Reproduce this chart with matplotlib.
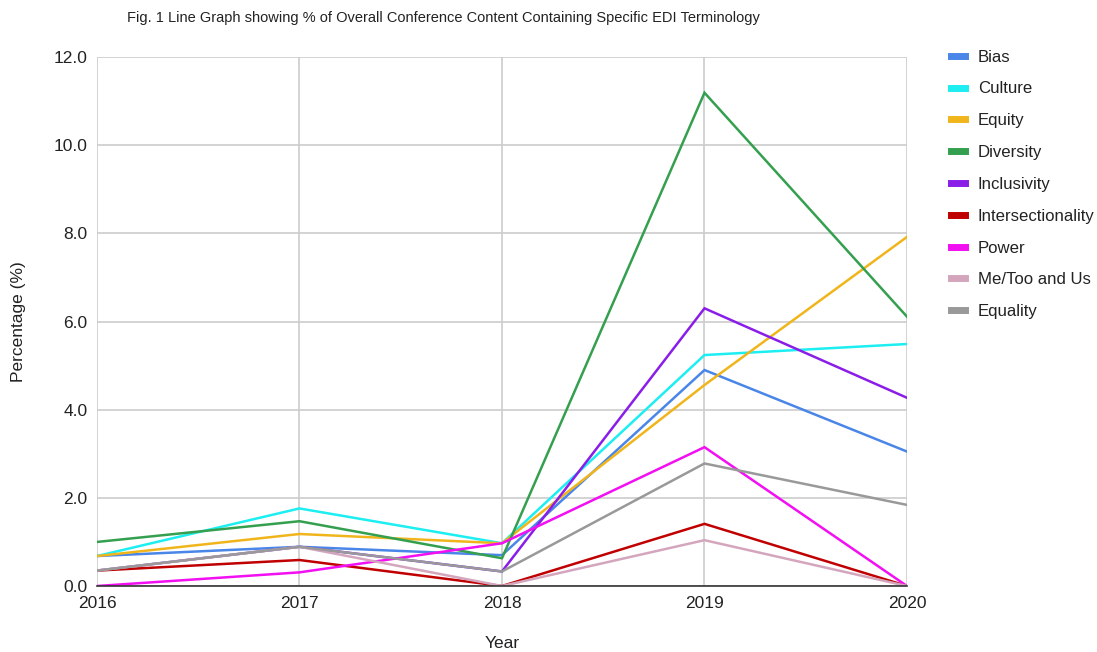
import matplotlib.pyplot as plt
from matplotlib.lines import Line2D

plt.rcParams['font.family'] = ['Liberation Sans', 'DejaVu Sans']

years = [2016, 2017, 2018, 2019, 2020]
bias = [0.68, 0.89, 0.70, 4.90, 3.05]
culture = [0.68, 1.76, 0.97, 5.24, 5.49]
equity = [0.68, 1.18, 0.97, 4.56, 7.92]
diversity = [1.00, 1.47, 0.63, 11.19, 6.11]
inclusivity = [0.35, 0.89, 0.33, 6.30, 4.27]
intersectionality = [0.35, 0.59, 0.00, 1.41, 0.00]
power = [0.00, 0.31, 0.97, 3.15, 0.00]
metoo = [0.35, 0.89, 0.00, 1.04, 0.00]
equality = [0.35, 0.89, 0.33, 2.78, 1.84]

names = ["Bias", "Culture", "Equity", "Diversity", "Inclusivity",
         "Intersectionality", "Power", "Me/Too and Us", "Equality"]
series = [bias, culture, equity, diversity, inclusivity,
          intersectionality, power, metoo, equality]
colors = ["#4a86e8", "#1ceef2", "#f1b51c", "#34a04f", "#8a1ee8",
          "#c00000", "#f20ff2", "#d4a6bd", "#999999"]

fig = plt.figure(figsize=(10.97, 6.52), dpi=100)
ax = fig.add_axes([0.0884, 0.1012, 0.7384, 0.8113])

for vals, c in zip(series, colors):
    ax.plot(years, vals, color=c, linewidth=1.8, solid_joinstyle="miter")

ax.set_xlim(2016, 2020)
ax.set_ylim(0, 12)
ax.set_xticks(years)
ax.set_yticks([0, 2, 4, 6, 8, 10, 12])
ax.set_yticklabels(["%.1f" % v for v in [0, 2, 4, 6, 8, 10, 12]])
ax.grid(True, color="#cccccc", linewidth=1.2)
ax.set_axisbelow(True)
for s in ["top", "right", "left"]:
    ax.spines[s].set_visible(False)
ax.spines["bottom"].set_color("#333333")
ax.spines["bottom"].set_linewidth(1.2)
ax.tick_params(axis="both", length=0, labelsize=12.5, colors="#222222")
ax.tick_params(axis="x", pad=7)
ax.tick_params(axis="y", pad=7)

ax.set_xlabel("Year", fontsize=12.5, color="#222222", labelpad=18)
ax.set_ylabel("Percentage (%)", fontsize=12.5, color="#222222", labelpad=20)

fig.text(0.404, 0.972, "Fig. 1 Line Graph showing % of Overall Conference Content Containing Specific EDI Terminology",
         ha="center", va="center", fontsize=10.5, color="#222222")

handles = [Line2D([0], [0], color=c, linewidth=5) for c in colors]
fig.legend(handles, names, loc="upper left", bbox_to_anchor=(0.853, 0.947),
           frameon=False, fontsize=12.1, handlelength=0.85, handletextpad=0.75,
           labelspacing=1.0, labelcolor="#222222")

fig.savefig("out.png", dpi=100)
